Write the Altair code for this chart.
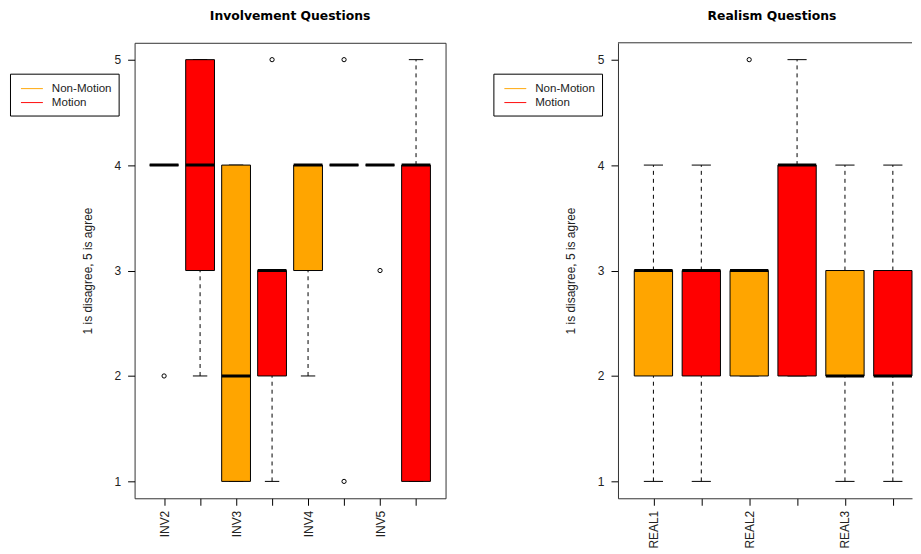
import altair as alt
import pandas as pd

# ---------------- data ----------------
groups = ["Non-Motion", "Motion"]
colors = ["#FFA500", "#FF0000"]

inv_ticklabels = ["INV2", "", "INV3", "", "INV4", "", "INV5", ""]
inv_low = [4, 2, 1, 1, 2, 4, 4, 1]
inv_q1 = [4, 3, 1, 2, 3, 4, 4, 1]
inv_med = [4, 4, 2, 3, 4, 4, 4, 4]
inv_q3 = [4, 5, 4, 3, 4, 4, 4, 4]
inv_high = [4, 5, 4, 3, 4, 4, 4, 5]
inv_out_pos = [1, 4, 6, 6, 7]
inv_out_val = [2, 5, 5, 1, 3]

real_ticklabels = ["REAL1", "", "REAL2", "", "REAL3", ""]
real_low = [1, 1, 2, 2, 1, 1]
real_q1 = [2, 2, 2, 2, 2, 2]
real_med = [3, 3, 3, 4, 2, 2]
real_q3 = [3, 3, 3, 4, 3, 3]
real_high = [4, 4, 3, 5, 4, 4]
real_out_pos = [3]
real_out_val = [5]

y_ticks = [1, 2, 3, 4, 5]
y_title = "1 is disagree, 5 is agree"

FONT = "Liberation Sans"
TXT = "#222222"
BORDER = "#333333"
H = 457


def panel(title, ticklabels, low, q1, med, q3, high, out_pos, out_val,
          width, xdomain, full_border, title_dx):
    n = len(low)
    df = pd.DataFrame({
        "pos": list(range(1, n + 1)),
        "group": [groups[i % 2] for i in range(n)],
        "low": low, "q1": q1, "med": med, "q3": q3, "high": high,
    })
    out = pd.DataFrame({"pos": out_pos, "val": out_val})

    xs = alt.Scale(domain=xdomain, nice=False, zero=False)
    ys = alt.Scale(domain=[0.84, 5.16], nice=False, zero=False)
    label_expr = "[" + ",".join("'%s'" % t for t in ticklabels) + "][datum.value - 1]"
    xaxis = alt.Axis(values=list(range(1, n + 1)), labelExpr=label_expr,
                     labelAngle=270, tickSize=7, tickColor="black",
                     domain=not full_border, domainColor=BORDER, grid=False,
                     labelPadding=5, labelFont=FONT, labelFontSize=12,
                     labelColor=TXT, title=None)
    yaxis = alt.Axis(values=y_ticks, labelAngle=0, tickSize=7, tickColor="black",
                     domain=not full_border, domainColor=BORDER, grid=False,
                     labelPadding=7, labelFont=FONT, labelFontSize=12,
                     labelColor=TXT, title=y_title, titleFont=FONT,
                     titleFontSize=12, titleFontWeight="normal",
                     titleColor=TXT, titlePadding=20)

    base = alt.Chart(df).transform_calculate(
        xl="datum.pos - 0.4", xr="datum.pos + 0.4",
        sl="datum.pos - 0.2", sr="datum.pos + 0.2")

    whisk_lo = base.mark_rule(color="black", strokeDash=[4, 4], strokeWidth=1).encode(
        x=alt.X("pos:Q", scale=xs, axis=xaxis),
        y=alt.Y("low:Q", scale=ys, axis=yaxis), y2="q1:Q")
    whisk_hi = base.mark_rule(color="black", strokeDash=[4, 4], strokeWidth=1).encode(
        x=alt.X("pos:Q", scale=xs, axis=xaxis),
        y=alt.Y("q3:Q", scale=ys, axis=yaxis), y2="high:Q")
    staple_lo = base.mark_rule(color="black", strokeWidth=1).encode(
        x=alt.X("sl:Q", scale=xs, axis=xaxis), x2="sr:Q",
        y=alt.Y("low:Q", scale=ys, axis=yaxis))
    staple_hi = base.mark_rule(color="black", strokeWidth=1).encode(
        x=alt.X("sl:Q", scale=xs, axis=xaxis), x2="sr:Q",
        y=alt.Y("high:Q", scale=ys, axis=yaxis))

    legend = alt.Legend(
        title=None, orient="none", legendX=-125, legendY=31, direction="vertical",
        symbolType="M-1.375,-0.06H1.375V0.06H-1.375Z", symbolSize=256,
        symbolStrokeWidth=0, symbolOffset=7,
        labelFont=FONT, labelFontSize=11.6, labelColor=TXT,
        labelOffset=12, strokeColor="black", fillColor="white", padding=7,
        rowPadding=-2, cornerRadius=0)

    box_fill = base.mark_bar(opacity=1).encode(
        x=alt.X("xl:Q", scale=xs, axis=xaxis), x2="xr:Q",
        y=alt.Y("q1:Q", scale=ys, axis=yaxis), y2="q3:Q",
        color=alt.Color("group:N", scale=alt.Scale(domain=groups, range=colors),
                        legend=legend))
    box_line = base.mark_bar(filled=False, stroke="black", strokeWidth=1).encode(
        x=alt.X("xl:Q", scale=xs, axis=xaxis), x2="xr:Q",
        y=alt.Y("q1:Q", scale=ys, axis=yaxis), y2="q3:Q")
    median = base.mark_rule(color="black", strokeWidth=3, clip=True).encode(
        x=alt.X("xl:Q", scale=xs, axis=xaxis), x2="xr:Q",
        y=alt.Y("med:Q", scale=ys, axis=yaxis))
    outliers = alt.Chart(out).mark_point(shape="circle", filled=False, size=18,
                                         color="black", strokeWidth=1, opacity=1).encode(
        x=alt.X("pos:Q", scale=xs, axis=xaxis),
        y=alt.Y("val:Q", scale=ys, axis=yaxis))

    layers = [whisk_lo, whisk_hi, staple_lo, staple_hi, box_fill, box_line,
              median, outliers]
    if not full_border:
        top = alt.Chart(alt.Data(values=[{"b": 0}])).mark_rule(
            color=BORDER, strokeWidth=1).encode(
            x=alt.value(0), x2=alt.value(width), y=alt.value(0))
        layers.append(top)

    return alt.layer(*layers).properties(
        width=width, height=H,
        title=alt.TitleParams(title, font="DejaVu Sans", fontSize=12.4,
                              fontWeight="bold", color="black", offset=20,
                              dx=title_dx, anchor="middle"),
        view=alt.ViewBackground(stroke=BORDER if full_border else "transparent",
                                strokeWidth=1),
    )


left = panel("Involvement Questions", inv_ticklabels, inv_low, inv_q1, inv_med,
             inv_q3, inv_high, inv_out_pos, inv_out_val,
             312, [0.18, 8.82], True, 0)
right = panel("Realism Questions", real_ticklabels, real_low, real_q1, real_med,
              real_q3, real_high, real_out_pos, real_out_val,
              295, [0.26, 6.40], False, 7)

chart = alt.hconcat(left, right, spacing=46).resolve_scale(
    color="independent", x="independent", y="independent"
).resolve_legend(color="independent").properties(
    padding={"left": 1, "top": 0, "right": 0, "bottom": 0},
    background="white",
)

chart.save("out.html", embed_options={"renderer": "svg", "actions": False})
